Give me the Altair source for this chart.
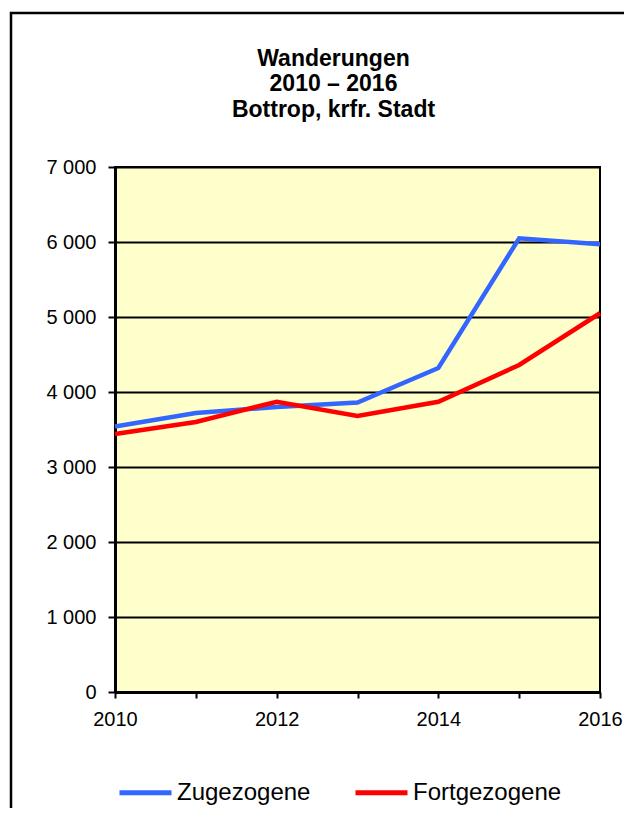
import altair as alt
import pandas as pd

years = [2010, 2011, 2012, 2013, 2014, 2015, 2016]
zugezogene = [3540, 3720, 3800, 3860, 4320, 6050, 5970]
fortgezogene = [3440, 3600, 3870, 3680, 3870, 4360, 5050]
series = ["Zugezogene", "Fortgezogene"]
colors = ["#3366FF", "#FF0000"]
title_lines = ["Wanderungen", "2010 – 2016", "Bottrop, krfr. Stadt"]
y_ticks = [0, 1000, 2000, 3000, 4000, 5000, 6000, 7000]

df = pd.DataFrame({
    "Jahr": years * 2,
    "Wert": zugezogene + fortgezogene,
    "Reihe": [series[0]] * len(years) + [series[1]] * len(years),
})

FONT = "Liberation Sans"

frame = alt.Chart(pd.DataFrame({"a": [0]})).mark_rect(
    fill="transparent", stroke="black", strokeWidth=2.5
).encode(
    x=alt.value(-104), x2=alt.value(700), y=alt.value(-154), y2=alt.value(900)
)

lines = alt.Chart(df).mark_line(strokeWidth=4.5, strokeCap="butt", strokeJoin="miter").encode(
    x=alt.X("Jahr:Q",
            scale=alt.Scale(domain=[2010, 2016], nice=False, zero=False),
            axis=alt.Axis(title=None, values=years, grid=False,
                          labelExpr="datum.value % 2 == 0 ? '' + datum.value : ''",
                          labelFont=FONT, labelFontSize=20, labelColor="black",
                          labelPadding=11, labelFlush=False, labelBound=False,
                          domainColor="black", domainWidth=3,
                          tickColor="black", tickSize=6, tickWidth=2)),
    y=alt.Y("Wert:Q",
            scale=alt.Scale(domain=[0, 7000], nice=False),
            axis=alt.Axis(title=None, values=y_ticks, grid=True, gridColor="black", gridWidth=2,
                          labelExpr="replace(format(datum.value, ','), ',', ' ')",
                          labelFont=FONT, labelFontSize=20, labelColor="black",
                          labelPadding=12,
                          domainColor="black", domainWidth=3,
                          tickColor="black", tickSize=7, tickWidth=2)),
    color=alt.Color("Reihe:N",
                    scale=alt.Scale(domain=series, range=colors),
                    sort=series,
                    legend=alt.Legend(title=None, orient="none", direction="horizontal",
                                      legendX=2, legendY=597,
                                      symbolType="stroke", symbolSize=2704,
                                      symbolStrokeWidth=5,
                                      labelFont=FONT, labelFontSize=24, labelColor="black",
                                      labelOffset=3, columnPadding=34, padding=0)),
)

chart = alt.layer(frame, lines).properties(
    width=485,
    height=525,
    padding={"left": 107, "top": 159, "right": 24, "bottom": 116},
    autosize=alt.AutoSizeParams(type="none"),
    title=alt.TitleParams(text=title_lines, font=FONT, fontSize=23, fontWeight="bold",
                          color="black", anchor="middle", frame="group", dx=-24,
                          offset=-110, lineHeight=25.5),
).configure_view(
    fill="#FFFFCC", stroke="black", strokeWidth=2
)

chart.save("out.html", embed_options={"renderer": "svg", "actions": False})
